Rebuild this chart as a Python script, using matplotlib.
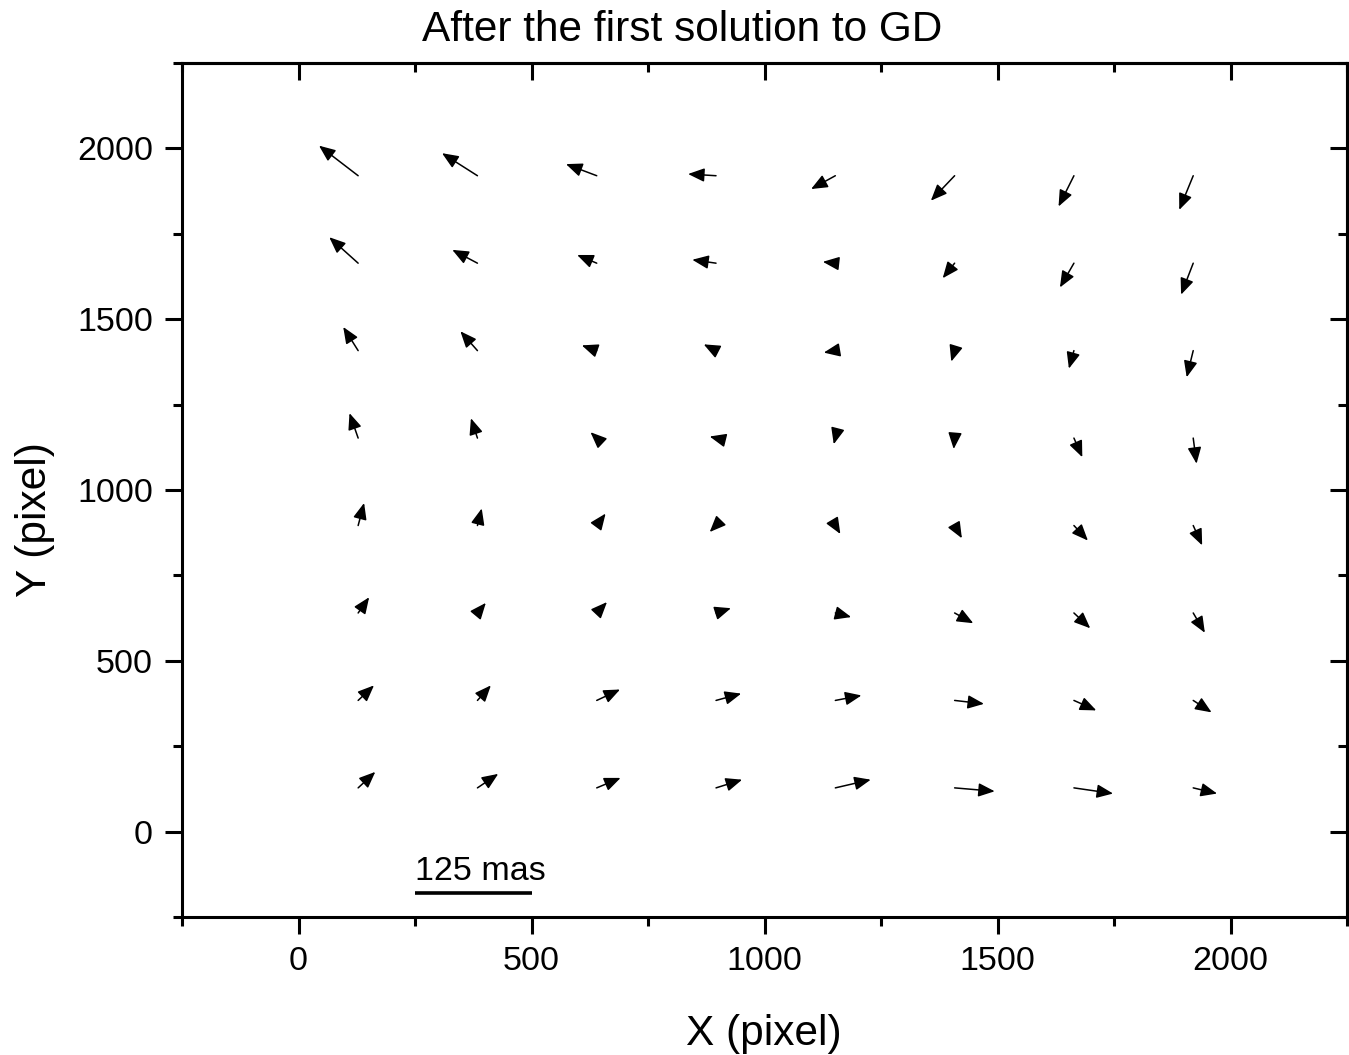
import numpy as np
import matplotlib
matplotlib.use('Agg')
import matplotlib.pyplot as plt
from matplotlib.patches import FancyArrowPatch
from matplotlib.ticker import MultipleLocator

plt.rcParams['font.family'] = ['Liberation Sans', 'DejaVu Sans']

# grid of reference positions (pixel)
grid_x = [128, 384, 640, 896, 1152, 1408, 1664, 1920]
grid_y = [128, 384, 640, 896, 1152, 1408, 1664, 1920]

# residuals in mas, one row per grid_y (bottom to top), one column per grid_x
res_x = [
    [18.4, 22.3, 25.6, 28.0, 38.0, 43.0, 42.0, 25.6],
    [17.0, 14.4, 25.0, 27.0, 28.0, 31.5, 24.0, 19.7],
    [11.8, 9.0, 11.0, 16.0, 17.0, 20.0, 17.5, 12.5],
    [6.4, 4.6, 9.5, -6.8, 5.4, 7.8, 15.0, 9.6],
    [-9.3, -7.0, -6.7, -6.8, -1.7, -1.0, 9.0, 3.6],
    [-16.0, -18.3, -16.0, -13.2, -12.4, -3.6, -5.4, -7.0],
    [-31.0, -27.0, -21.0, -25.5, -13.4, -12.8, -15.0, -13.0],
    [-42.0, -38.0, -33.0, -30.0, -26.0, -25.5, -16.5, -15.0],
]
res_y = [
    [23.4, 20.5, 14.6, 12.0, 12.0, -5.0, -8.3, -8.3],
    [22.0, 22.0, 16.0, 10.0, 7.3, -5.0, -14.6, -17.5],
    [23.0, 14.8, 16.0, 7.0, -6.0, -15.0, -22.4, -29.0],
    [33.0, 25.0, 17.5, -9.5, -12.4, -18.7, -22.0, -29.0],
    [36.5, 29.0, 8.6, 2.3, -9.0, -16.0, -28.0, -37.5],
    [34.6, 28.3, 7.7, 9.2, -2.9, -16.0, -26.3, -39.0],
    [38.0, 19.5, 12.0, 5.0, 2.0, -22.0, -35.5, -46.0],
    [44.0, 33.0, 17.0, 2.5, -19.5, -36.5, -45.0, -50.0],
]

bar_mas = 125          # length of the scale bar in mas
bar_pix = 250          # same length in plot pixels
scale = bar_pix / bar_mas

fig = plt.figure(figsize=(13.49, 10.55), dpi=100)
ax = fig.add_axes([182 / 1349, 1 - 917 / 1055, 1165 / 1349, 854 / 1055])

for j, y0 in enumerate(grid_y):
    for i, x0 in enumerate(grid_x):
        u = res_x[j][i] * scale
        v = res_y[j][i] * scale
        arr = FancyArrowPatch((x0, y0), (x0 + u, y0 + v),
                              arrowstyle='-|>,head_length=0.55,head_width=0.23',
                              mutation_scale=18, lw=1.1, color='black',
                              shrinkA=0, shrinkB=0)
        ax.add_patch(arr)

# scale bar
ax.plot([250, 250 + bar_pix], [-179, -179], color='black', lw=2.6,
        solid_capstyle='butt')
ax.text(250, -143, f'{bar_mas} mas', fontsize=24.5, ha='left', va='baseline')

ax.set_xlim(-250, 2250)
ax.set_ylim(-250, 2250)
ax.xaxis.set_major_locator(MultipleLocator(500))
ax.xaxis.set_minor_locator(MultipleLocator(250))
ax.yaxis.set_major_locator(MultipleLocator(500))
ax.yaxis.set_minor_locator(MultipleLocator(250))

for s in ax.spines.values():
    s.set_linewidth(2.2)
ax.tick_params(which='both', direction='out', width=2.2, labelsize=24.5)
ax.tick_params(which='major', length=12, pad=9)
ax.tick_params(which='minor', length=6.5)

# top and right axes carry inward ticks only
ax_top = ax.secondary_xaxis('top')
ax_top.xaxis.set_major_locator(MultipleLocator(500))
ax_top.xaxis.set_minor_locator(MultipleLocator(250))
ax_top.tick_params(which='major', direction='in', width=2.2, length=12, labeltop=False)
ax_top.tick_params(which='minor', direction='in', width=2.2, length=6.5)
ax_right = ax.secondary_yaxis('right')
ax_right.yaxis.set_major_locator(MultipleLocator(500))
ax_right.yaxis.set_minor_locator(MultipleLocator(250))
ax_right.tick_params(which='major', direction='in', width=2.2, length=12, labelright=False)
ax_right.tick_params(which='minor', direction='in', width=2.2, length=6.5)
for sec in (ax_top, ax_right):
    for s in sec.spines.values():
        s.set_linewidth(2.2)

fig.text(764 / 1349, 1 - 1045 / 1055, 'X (pixel)', fontsize=30.5,
         ha='center', va='baseline')
fig.text(35 / 1349, 1 - 520 / 1055, 'Y (pixel)', fontsize=30.5,
         ha='center', va='center', rotation=90)
fig.text(682 / 1349, 1 - 41 / 1055, 'After the first solution to GD',
         fontsize=30.5, ha='center', va='baseline')

fig.savefig('out.png', dpi=100)
